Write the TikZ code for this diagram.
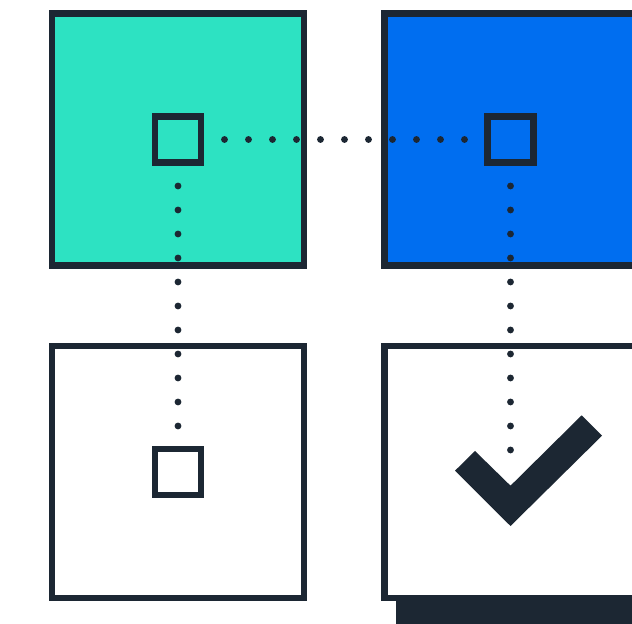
\documentclass[tikz,border=0pt]{standalone}
\usepackage{tikz}
\usetikzlibrary{positioning, calc}

\definecolor{ink}{RGB}{28,39,51}
\definecolor{mint}{RGB}{45,226,194}
\definecolor{azure}{RGB}{0,110,240}

\tikzset{
  tile/.style={draw=ink, line width=3.9pt, minimum size=5.04cm, inner sep=0pt, outer sep=0pt},
  port/.style={draw=ink, line width=3.8pt, minimum size=0.92cm, inner sep=0pt, outer sep=0pt},
  dots/.style={ink, line width=3.9pt, line cap=round, dash pattern=on 0pt off 13.66pt}
}

\begin{document}
\begin{tikzpicture}[x=0.02cm, y=-0.02cm]
        \useasboundingbox (0,0) rectangle (632,624);
        % stacked card under the lower right tile
        \fill[ink] (396,580) rectangle (660,650);
        \node[tile, fill=mint] (topleft) at (178,139.5) {};
        \node[tile, fill=azure] (topright) at (510.5,139.5) {};
        \node[tile, fill=white] (bottomleft) at (178,472) {};
        \node[tile, fill=white] (bottomright) at (510.5,472) {};
        \node[port] (inA) at (topleft.center) {};
        \node[port] (inB) at (topright.center) {};
        \node[port] (outA) at (bottomleft.center) {};
        \coordinate (outB) at (510.5,450.5);
        \draw[dots, shorten <=0.93cm, shorten >=0.9cm] (inA.center) -- (inB.center);
        \draw[dots, shorten <=0.93cm, shorten >=0.9cm] (inA.center) -- (outA.center);
        \draw[dots, shorten <=0.93cm] (inB.center) -- (outB);
        \fill[ink] (455,470.7) -- (475,451) -- (510.5,485.7) -- (581.7,415.3)
          -- (602,435.7) -- (510.5,526) -- cycle;
      \end{tikzpicture}
\end{document}
